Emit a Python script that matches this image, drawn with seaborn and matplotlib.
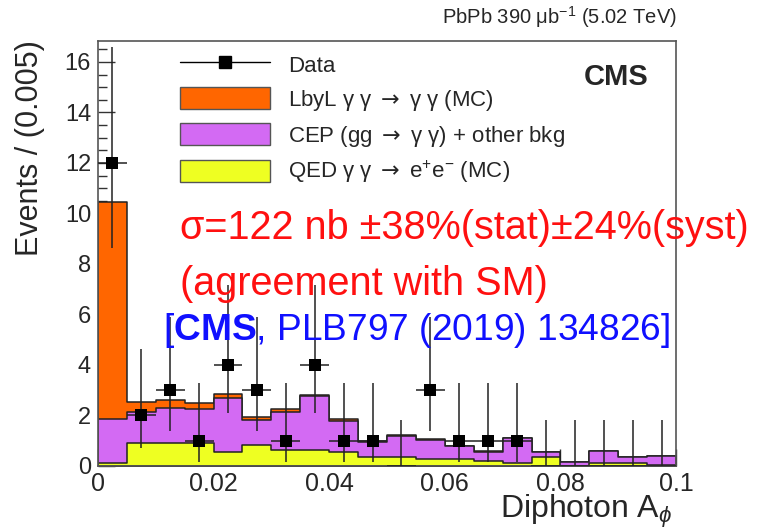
import numpy as np
import pandas as pd
import matplotlib
matplotlib.use("Agg")
import matplotlib.pyplot as plt
from matplotlib.lines import Line2D
from matplotlib.patches import Patch
from matplotlib.ticker import MultipleLocator, FuncFormatter
import seaborn as sns

# Binning of the diphoton acoplanarity distribution
bin_width = 0.005
x_range = (0.0, 0.1)
bin_centers = np.arange(x_range[0] + bin_width / 2, x_range[1], bin_width)

# Expected yields per bin for each process
qed_ee = [0.12, 0.92, 0.92, 0.92, 0.57, 0.83, 0.63, 0.63, 0.57, 0.36,
          0.34, 0.28, 0.28, 0.20, 0.10, 0.37, 0.00, 0.12, 0.12, 0.05]
cep_bkg = [1.74, 1.23, 1.37, 1.33, 2.12, 1.00, 1.50, 2.16, 1.23, 0.60,
           0.86, 0.75, 0.51, 0.37, 1.00, 0.17, 0.17, 0.49, 0.24, 0.35]
lbyl = [8.61, 0.40, 0.33, 0.24, 0.17, 0.13, 0.12, 0.04, 0.05, 0.04,
        0.02, 0.02, 0.01, 0.01, 0.01, 0.00, 0.00, 0.00, 0.00, 0.00]

# Observed events and their Poisson interval ends
data_counts = [12, 2, 3, 1, 4, 3, 1, 4, 1, 1, 0, 3, 1, 1, 1, 0, 0, 0, 0, 0]
data_low = [8.65, 0.71, 1.37, 0.17, 2.09, 1.37, 0.17, 2.09, 0.17, 0.17,
            0.0, 1.37, 0.17, 0.17, 0.17, 0.0, 0.0, 0.0, 0.0, 0.0]
data_high = [16.6, 4.64, 5.92, 3.30, 7.16, 5.92, 3.30, 7.16, 3.30, 3.30,
             1.84, 5.92, 3.30, 3.30, 3.30, 1.84, 1.84, 1.84, 1.84, 1.84]

sns.set_theme(style="ticks")
plt.rcParams["font.family"] = ["Liberation Sans", "DejaVu Sans"]
plt.rcParams["mathtext.fontset"] = "custom"
plt.rcParams["mathtext.rm"] = "Liberation Sans"
plt.rcParams["mathtext.it"] = "Liberation Sans:italic"
plt.rcParams["mathtext.bf"] = "Liberation Sans:bold"
plt.rcParams["mathtext.sf"] = "DejaVu Sans"

W, H = 757, 530
fig = plt.figure(figsize=(W / 100, H / 100), dpi=100)
ax = fig.add_axes([98 / W, 1 - 466 / H, (676 - 98) / W, (466 - 41) / H])

c_orange = "#ff6600"
c_purple = "#d36af3"
c_yellow = "#eeff22"

df = pd.DataFrame({
    "x": bin_centers,
    "qed": qed_ee,
    "cep": cep_bkg,
    "lbyl": lbyl,
})
df["stack_cep"] = df["qed"] + df["cep"]
df["stack_all"] = df["stack_cep"] + df["lbyl"]

# Stacked histogram: draw cumulative totals from the top layer down
for col, color in [("stack_all", c_orange), ("stack_cep", c_purple), ("qed", c_yellow)]:
    sns.histplot(data=df, x="x", weights=col, binwidth=bin_width, binrange=x_range,
                 element="step", fill=True, color=color, alpha=1.0,
                 edgecolor="#222222", linewidth=1.1, ax=ax)

# Data points with asymmetric Poisson uncertainties
cnt = np.array(data_counts, dtype=float)
lo = np.array(data_low)
hi = np.array(data_high)
ax.errorbar(bin_centers, cnt, yerr=[cnt - lo, hi - cnt], xerr=bin_width / 2,
            fmt="none", ecolor="#222222", elinewidth=1.1, capsize=0, zorder=5)
nonzero = cnt > 0
sns.scatterplot(x=bin_centers[nonzero], y=cnt[nonzero], marker="s", s=80,
                color="black", edgecolor="black", linewidth=0, zorder=6, ax=ax)

ax.set_xlim(*x_range)
ax.set_ylim(0, 16.83)
ax.set_xlabel("")
ax.set_ylabel("")
ax.xaxis.set_major_locator(MultipleLocator(0.02))
ax.xaxis.set_minor_locator(MultipleLocator(0.005))
ax.yaxis.set_major_locator(MultipleLocator(2))
ax.yaxis.set_minor_locator(MultipleLocator(0.5))
ax.xaxis.set_major_formatter(FuncFormatter(
    lambda v, p: "0" if abs(v) < 1e-9 else ("0.1" if abs(v - 0.1) < 1e-9 else f"{v:.2f}")))
ax.tick_params(axis="both", which="major", direction="in", length=12, width=1,
               color="#333333")
ax.tick_params(axis="both", which="minor", direction="in", length=6.5, width=1,
               color="#333333")
ax.tick_params(axis="y", which="major", labelsize=17, pad=5)
ax.tick_params(axis="x", which="major", labelsize=18, pad=4)
for s in ax.spines.values():
    s.set_color("#555555")
    s.set_linewidth(1.2)

# Legend
arrow = r"$\mathsf{\rightarrow}$"
handles = [
    Line2D([0], [0], color="black", lw=1, marker="s", markersize=9),
    Patch(facecolor=c_orange, edgecolor="#555555"),
    Patch(facecolor=c_purple, edgecolor="#555555"),
    Patch(facecolor=c_yellow, edgecolor="#555555"),
]
labels = [
    "Data",
    f"LbyL \u03b3 \u03b3 {arrow} \u03b3 \u03b3 (MC)",
    f"CEP (gg {arrow} \u03b3 \u03b3) + other bkg",
    f"QED \u03b3 \u03b3 {arrow} e$^{{+}}$e$^{{-}}$ (MC)",
]
fig.legend(handles, labels, loc="upper left", bbox_to_anchor=(180 / W, 1 - 53 / H),
           frameon=False, fontsize=16, handlelength=4.05, handleheight=1.17,
           handletextpad=0.8, labelspacing=0.46, borderpad=0, borderaxespad=0)

# Labels and annotations
fig.text(616 / W, 1 - 77 / H, "CMS", fontsize=21, fontweight="bold",
         ha="center", va="center")
fig.text(677 / W, 1 - 17 / H, "PbPb 390 \u03bcb$^{-1}$ (5.02 TeV)", fontsize=14.5,
         ha="right", va="center")
fig.text(672 / W, 1 - 518 / H, "Diphoton A$_{\\phi}$", fontsize=23,
         ha="right", va="baseline")
fig.text(30 / W, 1 - 40 / H, "Events / (0.005)", fontsize=22, rotation=90,
         ha="center", va="top")

fig.text(180 / W, 1 - 228 / H, "\u03c3=122 nb \u00b138%(stat)\u00b124%(syst)",
         fontsize=28.5, color="#ff1010", ha="left", va="center")
fig.text(180 / W, 1 - 284 / H, "(agreement with SM)", fontsize=28.5,
         color="#ff1010", ha="left", va="center")
fig.text(163 / W, 1 - 330 / H, "[$\\mathbf{CMS}$, PLB797 (2019) 134826]",
         fontsize=26.7, color="#1010ff", ha="left", va="center")

fig.savefig("out.png", dpi=100)
